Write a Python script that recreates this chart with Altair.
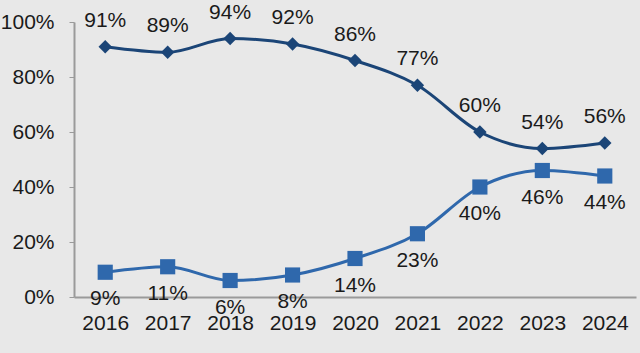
import altair as alt
import pandas as pd

years = ["2016", "2017", "2018", "2019", "2020", "2021", "2022", "2023", "2024"]
top_vals = [91, 89, 94, 92, 86, 77, 60, 54, 56]
bottom_vals = [9, 11, 6, 8, 14, 23, 40, 46, 44]

top = pd.DataFrame({"year": years, "v": top_vals})
top["label"] = [f"{v}%" for v in top_vals]
bot = pd.DataFrame({"year": years, "v": bottom_vals})
bot["label"] = [f"{v}%" for v in bottom_vals]

FONT = "Liberation Sans"
C_TOP = "#1b4577"
C_BOT = "#2f68ac"
FS = 21

x = alt.X("year:N", sort=years, title=None,
          scale=alt.Scale(paddingOuter=0.5, paddingInner=0),
          axis=alt.Axis(labelAngle=0, ticks=False, labelFontSize=FS, labelFont=FONT,
                        labelColor="#1a1a1a", labelPadding=15, domainColor="#9a9a9a",
                        domainWidth=2))
y = alt.Y("v:Q", title=None, scale=alt.Scale(domain=[0, 100]),
          axis=alt.Axis(values=[0, 20, 40, 60, 80, 100], labelExpr="datum.value + '%'",
                        grid=False, labelFontSize=FS, labelFont=FONT, labelColor="#1a1a1a",
                        labelPadding=15, tickSize=5, tickColor="#9a9a9a",
                        domainColor="#9a9a9a", domainWidth=2))

def series(df, color, shape, size, dy):
    base = alt.Chart(df).encode(x=x, y=y)
    line = base.mark_line(color=color, strokeWidth=3, interpolate="monotone")
    pts = base.mark_point(shape=shape, size=size, filled=True, color=color, opacity=1)
    txt = base.mark_text(dy=dy, fontSize=FS, font=FONT, color="#1a1a1a").encode(text="label:N")
    return line + pts + txt

chart = alt.layer(
    series(bot, C_BOT, "square", 230, 27),
    series(top, C_TOP, "diamond", 180, -26),
).properties(
    width=562, height=275,
    background="#e8e8e8",
    padding={"left": 74, "top": 22, "right": 4, "bottom": 56},
    autosize=alt.AutoSizeParams(type="none"),
).configure_view(stroke=None)

chart.save("out.html", embed_options={"renderer": "svg", "actions": False})
